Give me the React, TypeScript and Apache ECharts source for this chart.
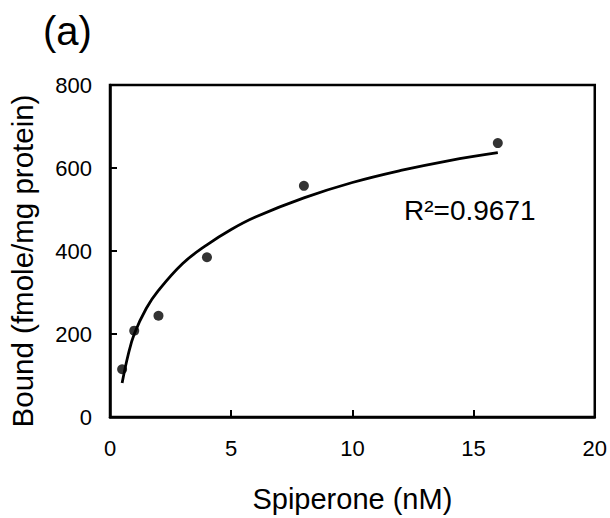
import React, { useEffect, useRef } from "react";
import * as echarts from "echarts";

const concX = [0.5, 1, 2, 4, 8, 16];
const boundY = [115, 208, 244, 385, 557, 660];

const fitX = [0.5, 0.75, 1, 1.5, 2, 3, 4, 5, 6, 8, 10, 12, 14, 16];
const fitY = [82, 150, 200, 262, 305, 370, 415, 452, 482, 528, 565, 594, 618, 637];

const xTicks = [0, 5, 10, 15, 20];
const yTicks = [0, 200, 400, 600, 800];

const FONT = "Liberation Sans, Arial, sans-serif";

export default function App() {
  const ref = useRef<HTMLDivElement>(null);
  useEffect(() => {
    document.body.style.margin = "0";
    document.body.style.overflow = "hidden";
    if (!ref.current) return;
    const chart = echarts.init(ref.current, undefined, { renderer: "svg" });
    chart.setOption({
      animation: false,
      backgroundColor: "#ffffff",
      grid: {
        left: 110,
        top: 85,
        right: 13,
        bottom: 101,
        show: true,
        borderColor: "#000",
        borderWidth: 2.5,
        backgroundColor: "transparent",
      },
      xAxis: {
        type: "value",
        min: xTicks[0],
        max: xTicks[xTicks.length - 1],
        interval: 5,
        name: "Spiperone (nM)",
        nameLocation: "middle",
        nameGap: 67,
        nameTextStyle: { fontFamily: FONT, fontSize: 29, color: "#000" },
        axisLine: { show: true, lineStyle: { color: "#000", width: 2.5 } },
        axisTick: { show: true, inside: true, length: 7, lineStyle: { color: "#000", width: 2 } },
        axisLabel: { fontFamily: FONT, fontSize: 22, color: "#000", margin: 20 },
        splitLine: { show: false },
      },
      yAxis: {
        type: "value",
        min: yTicks[0],
        max: yTicks[yTicks.length - 1],
        interval: 200,
        axisLine: { show: true, lineStyle: { color: "#000", width: 2.5 } },
        axisTick: { show: true, inside: true, length: 7, lineStyle: { color: "#000", width: 2 } },
        axisLabel: { fontFamily: FONT, fontSize: 22, color: "#000", margin: 18 },
        splitLine: { show: false },
      },
      series: [
        {
          type: "line",
          data: fitX.map((x, i) => [x, fitY[i]]),
          smooth: 0.4,
          showSymbol: false,
          symbol: "none",
          lineStyle: { color: "#000", width: 2.8 },
          z: 2,
        },
        {
          type: "scatter",
          data: concX.map((x, i) => [x, boundY[i]]),
          symbol: "circle",
          symbolSize: 10,
          itemStyle: { color: "#000" },
          z: 3,
        },
      ],
      graphic: [
        {
          type: "text",
          left: 43,
          top: 11,
          style: { text: "(a)", fontFamily: FONT, fontSize: 40, fill: "#000" },
        },
        {
          type: "text",
          x: 22,
          y: 261,
          rotation: Math.PI / 2,
          style: {
            text: "Bound (fmole/mg protein)",
            fontFamily: FONT,
            fontSize: 29.5,
            fill: "#000",
            align: "center",
            verticalAlign: "middle",
          },
        },
        {
          type: "text",
          x: 404,
          y: 210,
          style: {
            text: "R²=0.9671",
            fontFamily: FONT,
            fontSize: 28,
            fill: "#000",
            align: "left",
            verticalAlign: "middle",
          },
        },
      ],
    });
    return () => chart.dispose();
  }, []);
  return (
    <div
      ref={ref}
      style={{ position: "absolute", left: 0, top: 0, width: 610, height: 518 }}
    />
  );
}
